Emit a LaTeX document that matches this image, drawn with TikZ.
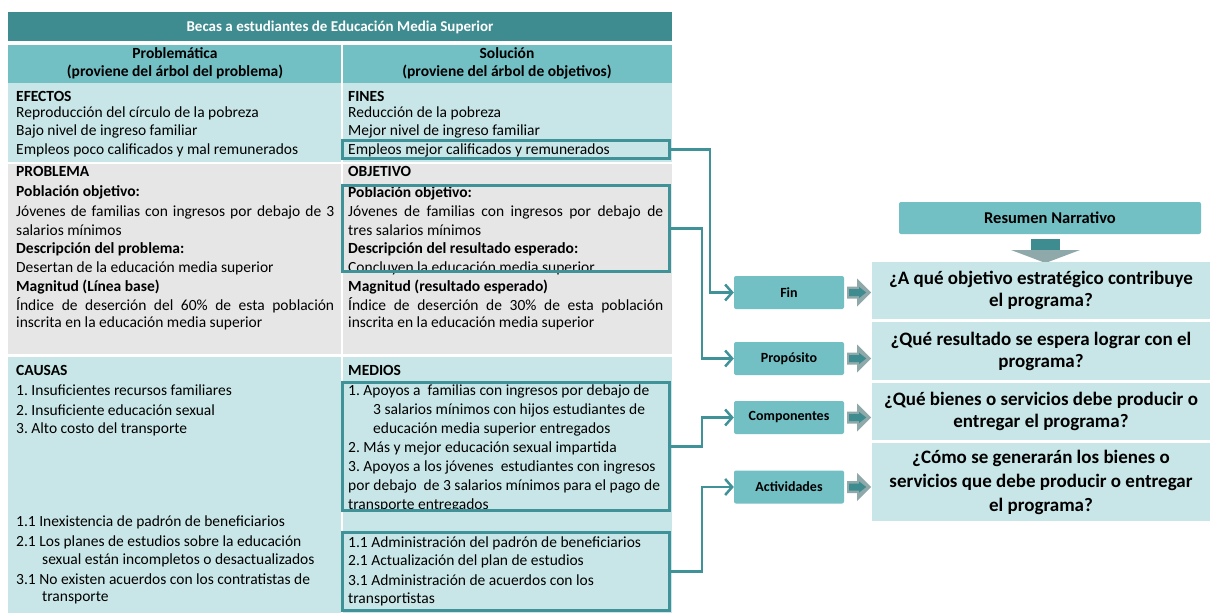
\documentclass[tikz,border=0pt]{standalone}
\usepackage{fontspec}
\setmainfont{Carlito}
\usetikzlibrary{arrows.meta}
\definecolor{dteal}{HTML}{3F8C90}
\definecolor{mteal}{HTML}{72BFC4}
\definecolor{lteal}{HTML}{C8E6E7}
\definecolor{lgrey}{HTML}{E6E6E6}
\definecolor{bteal}{HTML}{3F9398}
\definecolor{agrey}{HTML}{8FA9AA}
\frenchspacing
\begin{document}
\begin{tikzpicture}[x=1pt,y=-1pt,
 txt/.style={anchor=west,inner sep=0pt,font=\fontsize{15.5}{18}\selectfont},
 btxt/.style={txt,font=\bfseries\fontsize{15.5}{18}\selectfont},
 head/.style={inner sep=0pt,font=\bfseries\fontsize{15.5}{18}\selectfont},
 hbox/.style={draw=bteal,line width=3pt,inner sep=0pt,minimum width=327pt},
 lbl/.style={fill=mteal,rounded corners=2pt,minimum width=110pt,minimum height=33pt,inner sep=0pt,font=\bfseries\fontsize{14}{16}\selectfont},
 qbox/.style={fill=lteal,minimum width=338pt,inner sep=0pt,align=center,font=\bfseries\fontsize{19}{22}\selectfont},
 conn/.style={draw=bteal,line width=2.5pt,-{Straight Barb[length=7pt,width=16pt]}},
]
\useasboundingbox (0,0) rectangle (1210,615);
\fill[white] (0,0) rectangle (1210,615);
% table backgrounds
\fill[dteal] (8,12) rectangle (672,41);
\fill[mteal] (8,45) rectangle (672,83);
\fill[lteal] (8,83) rectangle (672,162);
\fill[lgrey] (8,164) rectangle (672,354);
\fill[lteal] (8,357) rectangle (672,613);
\draw[white,line width=1.5pt] (342,45) -- (342,613);
% title and headers
\node[inner sep=0pt,text=white,font=\bfseries\fontsize{15}{17}\selectfont] (title) at (340,27) {Becas a estudiantes de Educación Media Superior};
\node[head] (hl1) at (175,53) {Problemática};
\node[head] (hl2) at (175,72) {(proviene del árbol del problema)};
\node[head] (hr1) at (507,53) {Solución};
\node[head] (hr2) at (507,72) {(proviene del árbol de objetivos)};
% left column
\node[btxt] (L1) at (16,96) {EFECTOS};
\node[txt] (L2) at (16,113) {Reproducción del círculo de la pobreza};
\node[txt] (L3) at (16,131) {Bajo nivel de ingreso familiar};
\node[txt] (L4) at (16,150) {Empleos poco calificados y mal remunerados};
\node[btxt] (L5) at (16,171) {PROBLEMA};
\node[btxt] (L6) at (16,192) {Población objetivo:};
\node[txt] (L7) at (16,212) {\makebox[318pt][s]{Jóvenes de familias con ingresos por debajo de 3}};
\node[txt] (L8) at (16,230) {salarios mínimos};
\node[btxt] (L9) at (16,249) {Descripción del problema:};
\node[txt] (L10) at (16,268) {Desertan de la educación media superior};
\node[btxt] (L11) at (16,287) {Magnitud (Línea base)};
\node[txt] (L12) at (16,305) {\makebox[318pt][s]{Índice de deserción del 60\% de esta población}};
\node[txt] (L13) at (16,323) {inscrita en la educación media superior};
\node[btxt] (L14) at (16,370) {CAUSAS};
\node[txt] (L15) at (16,390) {1. Insuficientes recursos familiares};
\node[txt] (L16) at (16,410) {2. Insuficiente educación sexual};
\node[txt] (L17) at (16,429) {3. Alto costo del transporte};
\node[txt] (L18) at (16,522) {1.1 Inexistencia de padrón de beneficiarios};
\node[txt] (L19) at (16,542) {2.1 Los planes de estudios sobre la educación};
\node[txt] (L20) at (42,560) {sexual están incompletos o desactualizados};
\node[txt] (L21) at (16,579) {3.1 No existen acuerdos con los contratistas de};
\node[txt] (L22) at (42,598) {transporte};
% right column
\node[btxt] (R1) at (348,96) {FINES};
\node[txt] (R2) at (348,113) {Reducción de la pobreza};
\node[txt] (R3) at (348,131) {Mejor nivel de ingreso familiar};
\node[txt] (R4) at (348,150) {Empleos mejor calificados y remunerados};
\node[btxt] (R5) at (348,171) {OBJETIVO};
\node[btxt] (R6) at (348,193) {Población objetivo:};
\node[txt] (R7) at (348,212) {\makebox[315pt][s]{Jóvenes de familias con ingresos por debajo de}};
\node[txt] (R8) at (348,230) {tres salarios mínimos};
\node[btxt] (R9) at (348,249) {Descripción del resultado esperado:};
\node[txt] (R10) at (348,268) {Concluyen la educación media superior};
\node[btxt] (R11) at (348,287) {Magnitud (resultado esperado)};
\node[txt] (R12) at (348,305) {\makebox[315pt][s]{Índice de deserción de 30\% de esta población}};
\node[txt] (R13) at (348,323) {inscrita en la educación media superior};
\node[btxt] (R14) at (348,370) {MEDIOS};
\node[txt] (R15) at (348,391) {1. Apoyos a\ \ familias con ingresos por debajo de};
\node[txt] (R16) at (373,410) {3 salarios mínimos con hijos estudiantes de};
\node[txt] (R17) at (373,429) {educación media superior entregados};
\node[txt] (R18) at (348,448) {2. Más y mejor educación sexual impartida};
\node[txt] (R19) at (348,467) {3. Apoyos a los jóvenes\ \ estudiantes con ingresos};
\node[txt] (R20) at (348,486) {por debajo\ \ de 3 salarios mínimos para el pago de};
\node[txt] (R21) at (348,505) {transporte entregados};
\node[txt] (R22) at (348,543) {1.1 Administración del padrón de beneficiarios};
\node[txt] (R23) at (348,561) {2.1 Actualización del plan de estudios};
\node[txt] (R24) at (348,580) {3.1 Administración de acuerdos con los};
\node[txt] (R25) at (348,599) {transportistas};
% highlight boxes
\node[hbox,minimum height=18pt] (bx1) at (506,149.5) {};
\node[hbox,minimum height=86pt] (bx2) at (506,228.5) {};
\node[hbox,minimum height=128pt] (bx3) at (506,446.5) {};
\node[hbox,minimum height=78pt] (bx4) at (506,571.5) {};
% right panel
\node[fill=mteal,rounded corners=2pt,minimum width=302pt,minimum height=32pt,inner sep=0pt,font=\bfseries\fontsize{16.5}{18}\selectfont] (rn) at (1050,218) {Resumen Narrativo};
\fill[dteal] (1031,239) rectangle (1060,251);
\fill[agrey] (1011,250) -- (1080,250) -- (1045.5,263) -- cycle;
\node[qbox,minimum height=57pt] (q1) at (1041,290.5) {¿A qué objetivo estratégico contribuye\\el programa?};
\node[qbox,minimum height=58pt] (q2) at (1041,351) {¿Qué resultado se espera lograr con el\\programa?};
\node[qbox,minimum height=57pt] (q3) at (1041,411.5) {¿Qué bienes o servicios debe producir o\\entregar el programa?};
\node[qbox,minimum height=78pt,font=\bfseries\fontsize{19}{24}\selectfont] (q4) at (1041,482) {¿Cómo se generarán los bienes o\\servicios que debe producir o entregar\\el programa?};
\node[lbl] (fin) at (789,292.5) {Fin};
\node[lbl] (prop) at (789,358.5) {Propósito};
\node[lbl] (comp) at (789,417.5) {Componentes};
\node[lbl] (act) at (789,487) {Actividades};
\foreach \n in {fin,prop,comp,act}{
  \fill[agrey] ([xshift=3pt]\n.east) ++(0,-6) -- ++(10,0) -- ++(0,-8) -- ++(14,14) -- ++(-14,14) -- ++(0,-8) -- ++(-10,0) -- cycle;
  \fill[dteal] ([xshift=5pt]\n.east) ++(0,-3.5) -- ++(10,0) -- ++(0,-2) -- ++(7,5.5) -- ++(-7,5.5) -- ++(0,-2) -- ++(-10,0) -- cycle;
}
% connectors
\draw[conn] (bx1.east) -- ++(39,0) |- (fin.west);
\draw[conn] (bx2.east) -- ++(31,0) |- (prop.west);
\draw[conn] (bx3.east) -- ++(31,0) |- (comp.west);
\draw[conn] (bx4.east) -- ++(31,0) |- (act.west);
\end{tikzpicture}
\end{document}
